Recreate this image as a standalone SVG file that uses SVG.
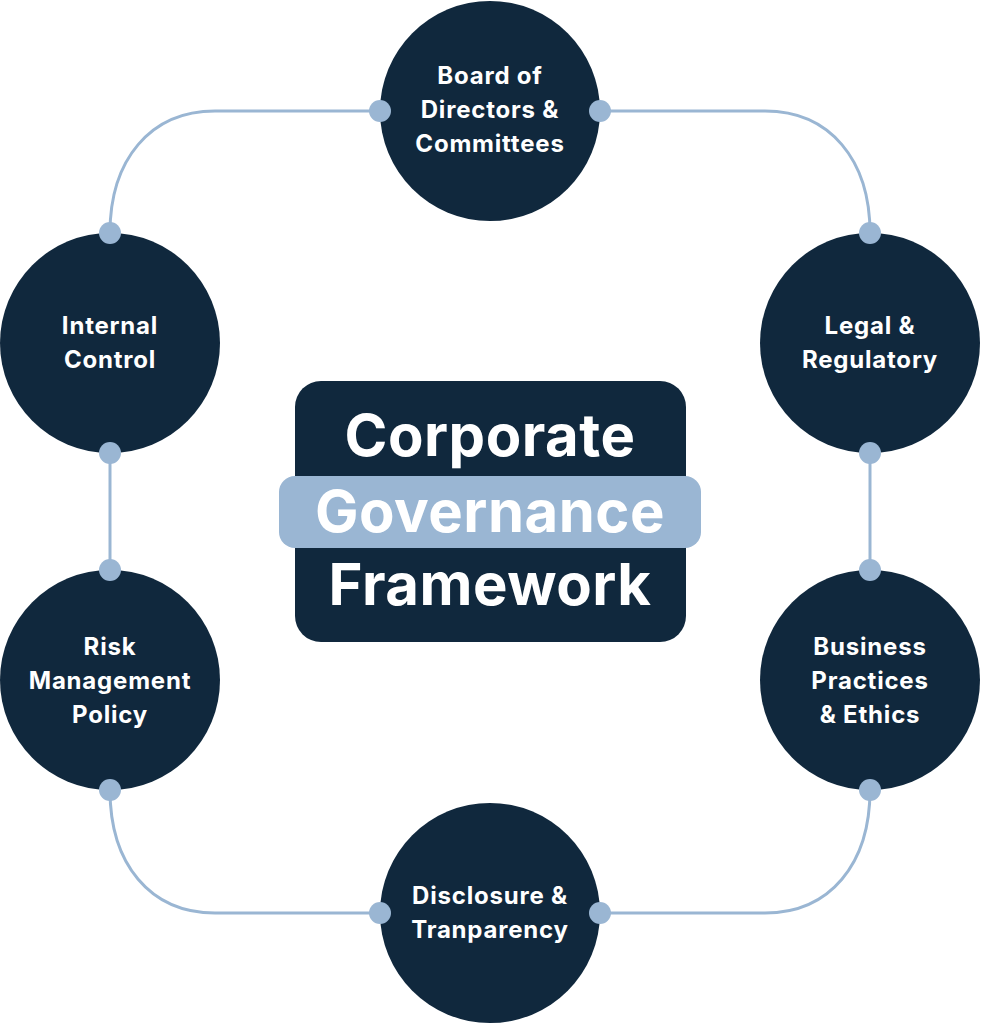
<svg xmlns="http://www.w3.org/2000/svg" width="981" height="1024" viewBox="0 0 981 1024">
<style>
.n{fill:#10283d}
.d{fill:#9ab6d3}
.c{fill:none;stroke:#9ab6d3;stroke-width:3}
.t{font-family:Inter,"Open Sans",sans-serif;font-weight:700;font-size:24px;letter-spacing:0.8px;fill:#fff;text-anchor:middle}
.b{font-family:Inter,"Open Sans",sans-serif;font-weight:700;font-size:58px;letter-spacing:0.5px;fill:#fff;text-anchor:middle}
</style>
<rect width="981" height="1024" fill="#fff"/>
<g id="connectors">
<path class="c" d="M380 111 H215 C150 111 110 160 110 233"/>
<path class="c" d="M600 111 H765 C830 111 870 160 870 233"/>
<path class="c" d="M110 453 V570"/>
<path class="c" d="M870 453 V570"/>
<path class="c" d="M380 913 H215 C150 913 110 864 110 790"/>
<path class="c" d="M600 913 H765 C830 913 870 864 870 790"/>
</g>
<g id="center">
<rect x="295" y="381" width="391" height="261" rx="26" class="n"/>
<rect x="279" y="476" width="422" height="72" rx="16" class="d"/>
<text class="b" x="490" y="456">Corporate</text>
<text class="b" x="490" y="532">Governance</text>
<text class="b" x="490" y="605">Framework</text>
</g>
<g id="board"><circle cx="490" cy="111" r="110" class="n"/><text class="t"><tspan x="490" y="84">Board of</tspan><tspan x="490" y="118">Directors &amp;</tspan><tspan x="490" y="152">Committees</tspan></text></g>
<g id="internal"><circle cx="110" cy="343" r="110" class="n"/><text class="t"><tspan x="110" y="334">Internal</tspan><tspan x="110" y="368">Control</tspan></text></g>
<g id="legal"><circle cx="870" cy="343" r="110" class="n"/><text class="t"><tspan x="870" y="334">Legal &amp;</tspan><tspan x="870" y="368">Regulatory</tspan></text></g>
<g id="risk"><circle cx="110" cy="680" r="110" class="n"/><text class="t"><tspan x="110" y="655">Risk</tspan><tspan x="110" y="689">Management</tspan><tspan x="110" y="723">Policy</tspan></text></g>
<g id="business"><circle cx="870" cy="680" r="110" class="n"/><text class="t"><tspan x="870" y="655">Business</tspan><tspan x="870" y="689">Practices</tspan><tspan x="870" y="723">&amp; Ethics</tspan></text></g>
<g id="disclosure"><circle cx="490" cy="913" r="110" class="n"/><text class="t"><tspan x="490" y="904">Disclosure &amp;</tspan><tspan x="490" y="938">Tranparency</tspan></text></g>
<g id="dots">
<circle cx="380" cy="111" r="11" class="d"/><circle cx="600" cy="111" r="11" class="d"/>
<circle cx="110" cy="233" r="11" class="d"/><circle cx="870" cy="233" r="11" class="d"/>
<circle cx="110" cy="453" r="11" class="d"/><circle cx="870" cy="453" r="11" class="d"/>
<circle cx="110" cy="570" r="11" class="d"/><circle cx="870" cy="570" r="11" class="d"/>
<circle cx="110" cy="790" r="11" class="d"/><circle cx="870" cy="790" r="11" class="d"/>
<circle cx="380" cy="913" r="11" class="d"/><circle cx="600" cy="913" r="11" class="d"/>
</g>
</svg>
